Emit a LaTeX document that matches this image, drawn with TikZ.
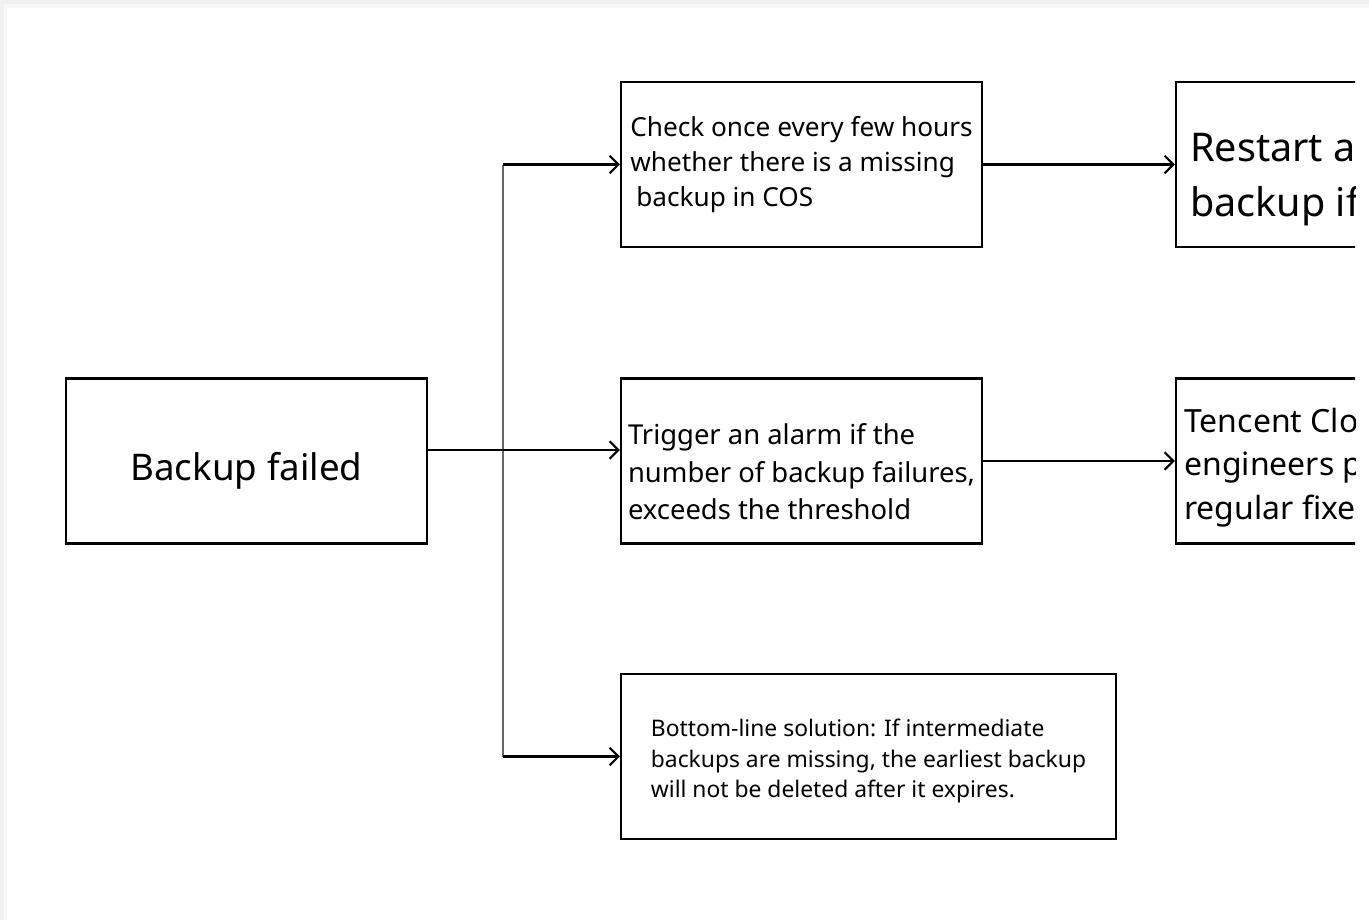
\documentclass[tikz,border=0pt]{standalone}
\usepackage{fontspec}
\setmainfont{Noto Sans}
\usetikzlibrary{arrows.meta}

\begin{document}
\begin{tikzpicture}[x=0.02cm, y=-0.02cm,
	box/.style={draw, line width=1.3pt, minimum width=7.22cm, minimum height=3.3cm, inner sep=0pt},
	txt/.style={align=left, inner sep=0pt},
	link/.style={-{Straight Barb[length=5pt, width=10pt, line width=1.2pt]}, line width=1.2pt}]
\def \trunk {503}   % x of the vertical line
\def \cut {1355}    % right edge of the drawing

% page with a soft shadow on the left and top
\useasboundingbox (0,0) rectangle (1369,920);
\fill[gray!12] (0,0) rectangle (1369,920);
\fill[gray!6] (4,4) rectangle (1369,920);
\fill[white] (7,8) rectangle (1369,920);

\begin{scope}
\clip (0,0) rectangle (\cut,920);

% boxes
\node[box] (fail) at (246.5,461) {};
\node[box] (check) at (801.5,164.5) {};
\node[box] (alarm) at (801.5,461) {};
\node[box, minimum width=9.9cm] (keep) at (868.5,756.5) {};
\node[box] (restart) at (1356.5,164.5) {};
\node[box] (fix) at (1356.5,461) {};

% texts
\node[txt, font=\fontsize{20.9}{26}\selectfont] (fail-txt) at (246.5,471) {Backup failed};
\node[txt, font=\fontsize{14.9}{19.8}\selectfont] (check-txt) at (801.5,164.5)
	{Check once every few hours\\whether there is a missing\\\hspace{0.12cm}backup in COS};
\node[txt, font=\fontsize{15.6}{21.3}\selectfont] (alarm-txt) at (801.5,472)
	{Trigger an alarm if the\\number of backup failures,\\exceeds the threshold};
\node[txt, font=\fontsize{13}{17.6}\selectfont] (keep-txt) at (868.5,761)
	{Bottom-line solution: If intermediate\\backups are missing, the earliest backup\\will not be deleted after it expires.};
\node[txt, anchor=west, font=\fontsize{22.5}{31.2}\selectfont] (restart-txt) at (1190,180)
	{Restart a\\backup if};
\node[txt, anchor=west, font=\fontsize{18.2}{24.7}\selectfont] (fix-txt) at (1184,467.5)
	{Tencent Clo\\engineers p\\regular fixe};
\end{scope}

\coordinate (top) at (\trunk,164.5);
\coordinate (bottom) at (\trunk,756.5);
\draw[gray!80!black, line width=0.6pt] (top) -- (bottom);

\draw[link] ([yshift=0.22cm]fail.east) -- ([yshift=0.22cm]alarm.west);
\draw[link] (top) -- (check.west);
\draw[link] (bottom) -- (keep.west);
\draw[link] (check.east) -- (restart.west);
\draw[link] (alarm.east) -- (fix.west);
\end{tikzpicture}
\end{document}
